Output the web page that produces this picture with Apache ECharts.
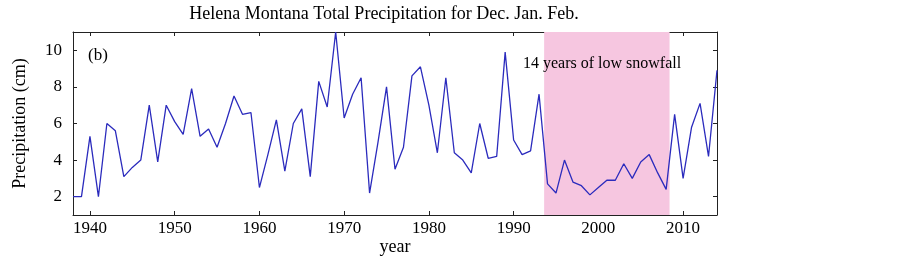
<!DOCTYPE html>
<html>
<head>
<meta charset="utf-8">
<script src="https://cdn.jsdelivr.net/npm/echarts@6/dist/echarts.min.js"></script>
<style>
    html, body { margin: 0; padding: 0; background: #fff; }
    #chart { width: 900px; height: 258px; }
</style>
</head>
<body>
<div id="chart"></div>
<script>
    // Dec+Jan+Feb precipitation at Helena, one value per winter
    var firstYear = 1938;
    var precip = [
        2.0, 2.0, 5.3, 2.0, 6.0, 5.6, 3.1, 3.6, 4.0, 7.0,   // 1938-1947
        3.9, 7.0, 6.1, 5.4, 7.9, 5.3, 5.7, 4.7, 6.0, 7.5,   // 1948-1957
        6.5, 6.6, 2.5, 4.3, 6.2, 3.4, 6.0, 6.8, 3.1, 8.3,   // 1958-1967
        6.9, 11.0, 6.3, 7.6, 8.5, 2.2, 5.0, 8.0, 3.5, 4.7,  // 1968-1977
        8.6, 9.1, 7.0, 4.4, 8.5, 4.4, 4.0, 3.3, 6.0, 4.1,   // 1978-1987
        4.2, 9.9, 5.1, 4.3, 4.5, 7.6, 2.7, 2.2, 4.0, 2.8,   // 1988-1997
        2.6, 2.1, 2.5, 2.9, 2.9, 3.8, 3.0, 3.9, 4.3, 3.3,   // 1998-2007
        2.4, 6.5, 3.0, 5.8, 7.1, 4.2, 8.9                   // 2008-2014
    ];
    var xTicks = [1940, 1950, 1960, 1970, 1980, 1990, 2000, 2010];
    var yTicks = [2, 4, 6, 8, 10];
    var lowSnowSpan = [1993.6, 2008.4];

    var seriesData = precip.map(function (v, i) {
        return [firstYear + i, v];
    });

    var font = 'Liberation Serif';
    var axisCol = '#222';

    function xAxisCfg(pos, labels) {
        return {
            type: 'value', position: pos, min: 1938, max: 2014,
            axisLine: { show: true, onZero: false, lineStyle: { color: axisCol, width: 1 } },
            axisTick: { show: true, inside: true, length: 4, customValues: xTicks, lineStyle: { color: axisCol } },
            axisLabel: { show: labels, customValues: xTicks, color: '#000', fontFamily: font, fontSize: 17, margin: 5,
                formatter: function (v) { return String(v); } },
            splitLine: { show: false }
        };
    }
    function yAxisCfg(pos, labels) {
        return {
            type: 'value', position: pos, min: 1, max: 11,
            axisLine: { show: true, onZero: false, lineStyle: { color: axisCol, width: 1 } },
            axisTick: { show: true, inside: true, length: 4, customValues: yTicks, lineStyle: { color: axisCol } },
            axisLabel: { show: labels, customValues: yTicks, color: '#000', fontFamily: font, fontSize: 17, margin: 11 },
            splitLine: { show: false }
        };
    }

    var xBottom = xAxisCfg('bottom', true);
    xBottom.name = 'year';
    xBottom.nameLocation = 'middle';
    xBottom.nameGap = 23;
    xBottom.nameMoveOverlap = false;
    xBottom.nameTextStyle = { color: '#000', fontFamily: font, fontSize: 18 };

    var yLeft = yAxisCfg('left', true);
    yLeft.name = 'Precipitation (cm)';
    yLeft.nameLocation = 'middle';
    yLeft.nameGap = 44;
    yLeft.nameTextStyle = { color: '#000', fontFamily: font, fontSize: 18 };

    var myChart = echarts.init(document.getElementById('chart'));
    myChart.setOption({
        animation: false,
        backgroundColor: '#fff',
        grid: { left: 73, right: 183, top: 32, bottom: 43, containLabel: false, outerBoundsMode: 'none' },
        xAxis: [xBottom, xAxisCfg('top', false)],
        yAxis: [yLeft, yAxisCfg('right', false)],
        graphic: [
            {
                type: 'text', x: 384, y: 14, z: 10,
                style: { text: 'Helena Montana Total Precipitation for Dec. Jan. Feb.',
                    fill: '#000', font: '18px "Liberation Serif"', textAlign: 'center', textVerticalAlign: 'middle' }
            },
            {
                type: 'text', x: 88, y: 56, z: 10,
                style: { text: '(b)', fill: '#000', font: '17px "Liberation Serif"', textVerticalAlign: 'middle' }
            },
            {
                type: 'text', x: 523, y: 64, z: 10,
                style: { text: '14 years of low snowfall', fill: '#000', font: '16px "Liberation Serif"', textVerticalAlign: 'middle' }
            }
        ],
        series: [{
            type: 'line',
            data: seriesData,
            symbol: 'none',
            z: 3,
            lineStyle: { color: '#2b2bbd', width: 1.3 },
            markArea: {
                silent: true,
                itemStyle: { color: '#f6c6e0' },
                data: [[{ xAxis: lowSnowSpan[0], yAxis: 1 }, { xAxis: lowSnowSpan[1], yAxis: 11 }]]
            }
        }]
    });
    window.onresize = myChart.resize;
</script>
</body>
</html>
